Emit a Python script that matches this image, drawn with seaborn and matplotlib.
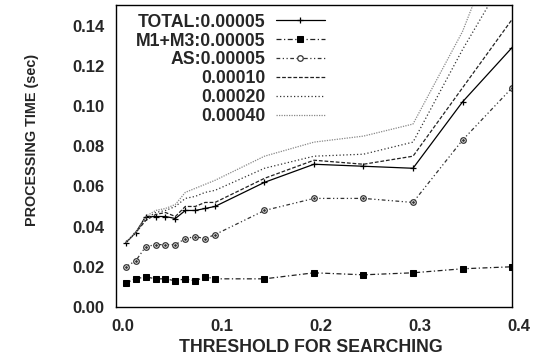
import matplotlib
matplotlib.use("Agg")
import matplotlib.pyplot as plt
from matplotlib.ticker import MultipleLocator, FormatStrFormatter
from matplotlib.transforms import ScaledTranslation
import seaborn as sns

# thresholds for searching
thresholds = [0.01, 0.02, 0.03, 0.04, 0.05, 0.06, 0.07, 0.08, 0.09, 0.10,
              0.15, 0.20, 0.25, 0.30, 0.35, 0.40]

# processing time (sec) per series
total_00005 = [0.032, 0.037, 0.045, 0.045, 0.045, 0.044, 0.048, 0.048, 0.049, 0.050,
               0.062, 0.071, 0.070, 0.069, 0.102, 0.129]
m1m3_00005 = [0.012, 0.014, 0.015, 0.014, 0.014, 0.013, 0.014, 0.013, 0.015, 0.014,
              0.014, 0.017, 0.016, 0.017, 0.019, 0.020]
as_00005 = [0.020, 0.023, 0.030, 0.031, 0.031, 0.031, 0.034, 0.035, 0.034, 0.036,
            0.048, 0.054, 0.054, 0.052, 0.083, 0.109]
t_00010 = [0.032, 0.037, 0.043, 0.046, 0.047, 0.045, 0.050, 0.050, 0.052, 0.052,
           0.064, 0.073, 0.071, 0.075, 0.109, 0.143]
t_00020 = [0.032, 0.037, 0.044, 0.047, 0.048, 0.050, 0.054, 0.055, 0.057, 0.058,
           0.069, 0.075, 0.076, 0.082, 0.128, 0.170]
t_00040 = [0.032, 0.037, 0.045, 0.048, 0.049, 0.051, 0.057, 0.059, 0.061, 0.063,
           0.075, 0.082, 0.085, 0.091, 0.137, 0.200]

labels = ["TOTAL:0.00005", "M1+M3:0.00005", "AS:0.00005", "0.00010", "0.00020", "0.00040"]
series = [total_00005, m1m3_00005, as_00005, t_00010, t_00020, t_00040]

styles = [
    dict(color="black", linestyle="-", marker="+", markersize=4.5,
         markeredgecolor="black", markeredgewidth=0.9),
    dict(color="#222222", linestyle=(0, (4, 2, 1, 2)), marker="s", markersize=3.8,
         markerfacecolor="black", markeredgecolor="black"),
    dict(color="#333333", linestyle=(0, (3, 2, 1, 2, 1, 2)), marker="o", markersize=4,
         markerfacecolor="white", markeredgecolor="#333333", markeredgewidth=0.9),
    dict(color="#222222", linestyle=(0, (3, 1.5))),
    dict(color="#333333", linestyle=(0, (1, 1.8))),
    dict(color="#888888", linestyle=(0, (1, 1))),
]

sns.set_style("white")
plt.rcParams["font.family"] = ["Liberation Sans", "DejaVu Sans"]
plt.rcParams["font.weight"] = "bold"

fig = plt.figure(figsize=(5.41, 3.62), dpi=100)
ax = fig.add_axes([0.2144, 0.152, 0.732, 0.833])

for lab, vals, st in zip(labels, series, styles):
    sns.lineplot(x=thresholds, y=vals, ax=ax, label=lab, linewidth=0.9, **st)

# dot in the middle of the AS circles
sns.lineplot(x=thresholds, y=as_00005, ax=ax, linestyle="", marker="o", markersize=1.2,
             color="#333333", markeredgecolor="#333333", legend=False)

ax.set_xlim(0, 0.4)
ax.set_ylim(0, 0.15)
ax.xaxis.set_major_locator(MultipleLocator(0.1))
ax.xaxis.set_minor_locator(MultipleLocator(0.02))
ax.yaxis.set_major_locator(MultipleLocator(0.02))
ax.xaxis.set_major_formatter(FormatStrFormatter("%.1f"))
ax.yaxis.set_major_formatter(FormatStrFormatter("%.2f"))
ax.tick_params(axis="both", which="major", direction="in", length=5, width=0.8,
               labelsize=12)
ax.tick_params(axis="y", which="major", pad=8.5)
ax.tick_params(axis="x", which="major", pad=9)
ax.tick_params(axis="x", which="minor", direction="in", length=3, width=0.8)
shift = ScaledTranslation(0.07, 0, fig.dpi_scale_trans)
for lbl in ax.get_xticklabels():
    lbl.set_transform(lbl.get_transform() + shift)
for lbl in ax.get_xticklabels() + ax.get_yticklabels():
    lbl.set_fontweight("bold")
for sp in ax.spines.values():
    sp.set_color("black")
    sp.set_linewidth(1.0)

ax.set_xlabel("THRESHOLD FOR SEARCHING", fontsize=12.8, fontweight="bold")
ax.set_ylabel("PROCESSING TIME (sec)", fontsize=10.4, fontweight="bold")
ax.xaxis.set_label_coords(0.492, -0.105)
ax.yaxis.set_label_coords(-0.195, 0.554)

leg = ax.legend(loc="upper right", bbox_to_anchor=(0.528, 0.973), frameon=False,
                markerfirst=False, fontsize=12.7, handlelength=2.8, handletextpad=0.6,
                labelspacing=0.11, borderpad=0, borderaxespad=0)
for t in leg.get_texts():
    t.set_fontweight("bold")

fig.savefig("out.png", dpi=100)
